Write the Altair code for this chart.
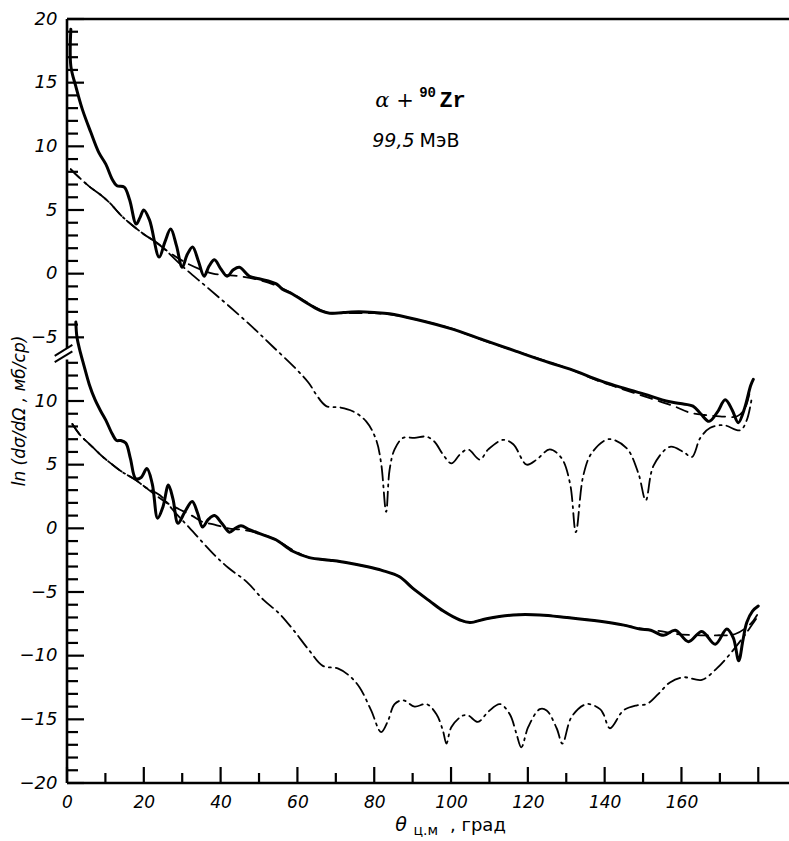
import altair as alt
import pandas as pd

# ---------------- data ----------------
# Upper set (alpha + 90Zr, 99.5 MeV) -- values in the upper axis units
up_solid_x = [1.0, 1.0, 2.3, 4.0, 6.2, 8.3, 10.1, 11.8, 13.0, 14.9, 16.3, 18.0, 19.0, 20.0, 21.5, 24.0,
              25.5, 27.0, 28.5, 30.0, 31.3, 32.7, 34.2, 35.7, 37.0, 38.4, 40.0, 41.7, 43.3, 44.9, 47.5,
              50.0, 54.5, 56.0, 58.7, 63.0, 66.0, 68.4, 72.0, 76.0, 80.0, 84.0, 91.0, 99.7, 108.4,
              117.0, 125.7, 131.0, 138.8, 145.0, 151.8, 156.0, 159.7, 163.0, 165.0, 167.2, 169.3,
              171.4, 173.2, 174.8, 176.5, 178.0, 178.7]
up_solid_y = [19.2, 16.3, 14.7, 12.9, 11.1, 9.5, 8.6, 7.4, 6.9, 6.8, 5.8, 3.9, 4.4, 5.0, 4.2, 1.3,
              2.5, 3.5, 2.2, 0.5, 1.5, 2.1, 1.0, -0.2, 0.6, 1.1, 0.4, -0.2, 0.3, 0.5, -0.2,
              -0.4, -0.8, -1.2, -1.6, -2.4, -2.9, -3.1, -3.05, -3.0, -3.05, -3.15, -3.6, -4.3, -5.2,
              -6.1, -7.0, -7.5, -8.4, -9.0, -9.6, -10.0, -10.2, -10.4, -11.0, -11.6, -10.9,
              -9.9, -10.7, -11.7, -10.5, -8.8, -8.3]

up_dash_x = [1.0, 3.0, 6.0, 8.3, 11.0, 14.0, 17.0, 20.0, 23.0, 26.0, 29.0, 32.0, 35.0, 38.0, 41.0,
             45.0, 50.0, 55.0, 60.0, 65.0, 68.4, 72.0, 80.0, 84.0, 91.0, 100.0, 108.0, 117.0, 126.0,
             131.0, 139.0, 145.0, 152.0, 158.0, 162.0, 166.0, 170.0, 174.5, 176.5, 178.0]
up_dash_y = [8.2, 7.6, 6.8, 6.3, 5.6, 4.6, 3.8, 3.1, 2.5, 1.8, 1.2, 0.7, 0.3, 0.0, -0.1,
             -0.2, -0.5, -1.0, -1.8, -2.7, -3.1, -3.1, -3.1, -3.2, -3.6, -4.3, -5.2, -6.1, -7.0,
             -7.5, -8.5, -9.1, -9.8, -10.4, -10.9, -11.1, -11.2, -11.2, -10.6, -9.0]

up_dd_x = [1.0, 3.0, 6.0, 8.3, 11.0, 14.0, 17.0, 20.0, 24.0, 30.0, 36.2, 42.0, 48.3, 53.5, 59.7,
           63.0, 64.9, 67.5, 71.0, 74.4, 77.9, 80.5, 81.8, 83.1, 84.0, 85.3, 87.5, 90.5, 93.6,
           95.7, 97.9, 100.1, 102.3, 104.4, 107.5, 109.7, 113.6, 116.2, 119.7, 122.3, 125.7,
           128.8, 131.0, 132.5, 134.4, 136.6, 141.0, 145.7, 148.8, 150.7, 152.7, 157.0, 160.5,
           162.7, 164.9, 167.5, 171.0, 175.3, 177.0, 178.4]
up_dd_y = [8.2, 7.6, 6.8, 6.3, 5.6, 4.6, 3.8, 3.1, 2.3, 0.6, -1.0, -2.5, -4.2, -5.7, -7.5,
           -8.6, -9.5, -10.4, -10.5, -10.8, -11.6, -13.05, -14.9, -18.7, -15.4, -13.8, -12.9, -12.9, -12.8,
           -13.2, -14.2, -14.9, -14.2, -13.8, -14.6, -13.8, -13.05, -13.4, -15.0, -14.6, -13.8,
           -14.5, -16.5, -20.3, -15.9, -14.1, -13.0, -13.7, -15.7, -17.8, -15.1, -13.6, -14.0,
           -14.4, -12.9, -12.1, -11.9, -12.3, -11.5, -9.6]

# Lower set -- values in the lower axis units (its labels)
lo_solid_x = [2.3, 2.6, 3.5, 4.4, 5.8, 7.3, 8.8, 10.1, 11.8, 12.9, 14.0, 15.3, 16.5, 17.9, 19.3, 20.8,
              22.2, 23.6, 25.0, 26.4, 27.6, 28.9, 30.7, 32.6, 34.0, 35.3, 36.8, 38.4, 40.3, 42.3,
              43.8, 45.3, 47.5, 50.0, 54.4, 58.8, 63.1, 68.4, 73.0, 78.0, 82.0, 86.6, 90.0, 94.4,
              98.0, 102.3, 104.9, 109.2, 116.2, 123.1, 130.1, 138.8, 145.0, 149.2, 152.0, 155.3,
              158.4, 161.8, 165.3, 168.8, 171.8, 173.5, 174.9, 176.0, 177.0, 178.5, 180.0]
lo_solid_y = [16.2, 15.0, 13.8, 12.8, 11.3, 10.1, 9.2, 8.5, 7.4, 6.9, 6.9, 6.7, 5.5, 3.9, 4.0, 4.7,
              3.5, 0.8, 1.7, 3.4, 2.3, 0.4, 1.3, 2.1, 1.2, 0.1, 0.7, 1.0, 0.4, -0.3,
              0.0, 0.2, -0.1, -0.4, -0.9, -1.8, -2.3, -2.5, -2.7, -3.0, -3.3, -3.8, -4.7, -5.7,
              -6.5, -7.2, -7.4, -7.1, -6.8, -6.8, -7.0, -7.3, -7.6, -7.9, -8.0, -8.4,
              -8.0, -8.9, -8.1, -9.1, -7.9, -8.6, -10.4, -8.8, -7.4, -6.5, -6.1]

lo_dash_x = [1.4, 3.5, 6.6, 9.0, 11.0, 14.0, 17.9, 20.5, 23.1, 26.0, 29.2, 32.5, 35.3, 38.4, 42.0,
             45.3, 50.0, 54.4, 58.8, 63.1, 68.4, 73.0, 78.0, 82.0, 86.6, 90.0, 94.4, 98.0, 102.3,
             104.9, 109.2, 116.2, 123.1, 130.1, 138.8, 145.0, 150.0, 155.0, 158.8, 165.0, 169.2,
             174.0, 178.0, 179.7]
lo_dash_y = [8.2, 7.3, 6.4, 5.7, 5.2, 4.5, 3.8, 3.2, 2.6, 2.0, 1.5, 1.0, 0.5, 0.3, 0.0,
             -0.1, -0.4, -0.9, -1.7, -2.3, -2.5, -2.7, -3.0, -3.3, -3.8, -4.7, -5.7, -6.5, -7.2,
             -7.4, -7.1, -6.8, -6.8, -7.0, -7.3, -7.6, -7.9, -8.1, -8.3, -8.4, -8.4,
             -8.3, -7.5, -6.8]

lo_dd_x = [1.4, 3.5, 6.6, 9.0, 11.0, 14.0, 17.9, 20.5, 24.2, 28.0, 32.0, 38.1, 42.0, 46.8, 51.1,
           55.3, 59.0, 63.1, 66.6, 70.5, 73.6, 76.2, 79.2, 81.8, 83.6, 85.3, 87.5, 90.5, 93.6,
           96.2, 97.9, 98.8, 100.1, 103.1, 104.5, 107.0, 109.7, 112.7, 115.3, 117.0, 118.3,
           120.1, 123.1, 124.9, 127.5, 129.0, 131.4, 135.3, 138.8, 139.7, 141.4, 144.9, 148.4,
           151.0, 154.0, 157.0, 160.5, 165.3, 169.2, 172.7, 176.2, 179.7]
lo_dd_y = [8.2, 7.3, 6.4, 5.7, 5.2, 4.5, 3.8, 3.2, 2.6, 1.3, 0.0, -2.0, -3.1, -4.2, -5.6,
           -6.7, -8.0, -9.6, -10.8, -11.0, -11.6, -12.5, -14.3, -16.0, -15.1, -13.8, -13.5, -14.0, -13.8,
           -14.6, -15.9, -16.9, -15.6, -14.7, -14.7, -15.2, -14.4, -13.8, -14.6, -16.1, -17.2,
           -15.6, -14.2, -14.3, -15.7, -16.9, -14.8, -13.8, -14.2, -14.6, -15.7, -14.3, -13.9,
           -13.8, -13.0, -12.1, -11.7, -11.9, -11.0, -9.85, -8.5, -7.0]

# axis tick labels
x_label_values = [0, 20, 40, 60, 80, 100, 120, 140, 160]
upper_labels = [20, 15, 10, 5, 0, -5]
lower_labels = [10, 5, 0, -5, -10, -15, -20]
LOWER_SHIFT = -20  # broken axis: the lower set sits 20 units below the upper one

# ---------------- build tables ----------------
def frame(xs, ys, series, shift):
    return pd.DataFrame({"x": xs, "y": [v + shift for v in ys], "series": series})

df = pd.concat([
    frame(up_solid_x, up_solid_y, "up_solid", 0),
    frame(up_dash_x, up_dash_y, "up_dash", 0),
    frame(up_dd_x, up_dd_y, "up_dd", 0),
    frame(lo_solid_x, lo_solid_y, "lo_solid", LOWER_SHIFT),
    frame(lo_dash_x, lo_dash_y, "lo_dash", LOWER_SHIFT),
    frame(lo_dd_x, lo_dd_y, "lo_dd", LOWER_SHIFT),
], ignore_index=True)
df["order"] = range(len(df))

y_label_values = upper_labels + [v + LOWER_SHIFT for v in lower_labels]

FONT = "DejaVu Sans"
label_expr = ("datum.value >= -5 ? (datum.value < 0 ? '\u2212' + abs(datum.value) : '' + datum.value)"
              " : (datum.value + 20 < 0 ? '\u2212' + abs(datum.value + 20) : '' + (datum.value + 20))")

X = alt.X("x:Q", scale=alt.Scale(domain=[0, 188], nice=False, zero=False),
          axis=alt.Axis(values=x_label_values, ticks=False, domain=False, grid=False, title=None,
                        labelFont=FONT, labelFontSize=17, labelFontStyle="italic", labelColor="black",
                        labelPadding=11, labelFlush=False, format="d"))
Y = alt.Y("y:Q", scale=alt.Scale(domain=[-40, 20], nice=False, zero=False),
          axis=alt.Axis(values=y_label_values, labelExpr=label_expr, ticks=False, domain=False,
                        grid=False, title=None, labelFont=FONT, labelFontSize=18,
                        labelFontStyle="italic", labelColor="black", labelPadding=10,
                        labelFlush=False))

base = alt.Chart(df)

def curve(series, **kw):
    return base.transform_filter(alt.datum.series == series).mark_line(
        color="black", interpolate="catmull-rom", strokeCap="round", strokeJoin="round", **kw
    ).encode(x=X, y=Y, order="order:Q")

DASH = [12, 7]
DASHDOT = [14, 5, 2, 5]
layers = [
    curve("up_dd", strokeWidth=1.8, strokeDash=DASHDOT),
    curve("lo_dd", strokeWidth=1.8, strokeDash=DASHDOT),
    curve("up_dash", strokeWidth=1.8, strokeDash=DASH),
    curve("lo_dash", strokeWidth=1.8, strokeDash=DASH),
    curve("up_solid", strokeWidth=3.0),
    curve("lo_solid", strokeWidth=3.0),
]

# ---------------- axes drawn by hand (inward ticks, broken axis) ----------------
y_ticks = [v for v in range(20, -6, -1)] + [v for v in range(-7, -41, -1)]
yt = pd.DataFrame({"y": y_ticks, "major": [v % 5 == 0 for v in y_ticks]})
x_ticks = list(range(0, 181, 10))
xt = pd.DataFrame({"x": x_ticks, "major": [v % 20 == 0 for v in x_ticks]})

H = 764
layers += [
    alt.Chart(yt).transform_filter("datum.major").mark_rule(color="black", strokeWidth=2.2)
      .encode(y=Y, x=alt.value(0), x2=alt.value(17)),
    alt.Chart(yt).transform_filter("!datum.major").mark_rule(color="black", strokeWidth=2.2)
      .encode(y=Y, x=alt.value(0), x2=alt.value(11)),
    alt.Chart(xt).transform_filter("datum.major").mark_rule(color="black", strokeWidth=2.2)
      .encode(x=X, y=alt.value(H), y2=alt.value(H - 16)),
    alt.Chart(xt).transform_filter("!datum.major").mark_rule(color="black", strokeWidth=2.2)
      .encode(x=X, y=alt.value(H), y2=alt.value(H - 10)),
]

frame_lines = pd.DataFrame({
    "x":  [0, 0, 0, 0],
    "x2": [0, 0, 188, 188],
    "y":  [20, -6.75, -40, 20],
    "y2": [-5.85, -40, -40, 20],
})
layers.append(alt.Chart(frame_lines).mark_rule(color="black", strokeWidth=2.6)
              .encode(x=X, x2="x2:Q", y=Y, y2="y2:Q"))

slashes = pd.DataFrame({"x": [-3.2, -3.2], "x2": [1.4, 1.4], "y": [-6.45, -6.95], "y2": [-5.6, -6.1]})
layers.append(alt.Chart(slashes).mark_rule(color="black", strokeWidth=2)
              .encode(x=X, x2="x2:Q", y=Y, y2="y2:Q"))

# ---------------- annotations ----------------
def txt(t, x, y, size, style="normal", font=FONT, weight="normal", align="center"):
    d = pd.DataFrame({"t": [t], "x": [x], "y": [y]})
    return alt.Chart(d).mark_text(fontSize=size, font=font, fontStyle=style, fontWeight=weight,
                                  align=align, baseline="alphabetic", color="black").encode(
        x=X, y=Y, text="t:N")

layers += [
    txt("\u03b1 +", 85.3, 13.1, 21, style="italic", font="DejaVu Serif"),
    txt("90", 93.9, 13.9, 14, font="Liberation Mono", weight="bold"),
    txt("Zr", 100.4, 13.1, 22, font="Liberation Mono", weight="bold"),
    txt("99,5", 85.0, 9.95, 19, style="italic"),
    txt("\u041c\u044d\u0412", 97.0, 9.95, 19),
]

# axis titles
ytitle = pd.DataFrame({"t": ["ln (d\u03c3/d\u03a9 , \u043c\u0431/\u0441\u0440)"]})
layers.append(alt.Chart(ytitle).mark_text(angle=270, fontSize=17, font=FONT, fontStyle="italic",
                                          align="center", baseline="middle", color="black")
              .encode(text="t:N", x=alt.value(-47), y=alt.value(392)))

xt_parts = pd.DataFrame({
    "t": ["\u03b8", "\u0446.\u043c", ", \u0433\u0440\u0430\u0434"],
    "x": [87.0, 93.4, 107.0],
})
layers.append(alt.Chart(xt_parts.iloc[[0]]).mark_text(fontSize=19, font=FONT, fontStyle="italic",
                                                     baseline="alphabetic", color="black")
              .encode(x=X, text="t:N", y=alt.value(H + 48)))
layers.append(alt.Chart(xt_parts.iloc[[1]]).mark_text(fontSize=14, font=FONT,
                                                     baseline="alphabetic", color="black")
              .encode(x=X, text="t:N", y=alt.value(H + 52)))
layers.append(alt.Chart(xt_parts.iloc[[2]]).mark_text(fontSize=18, font=FONT,
                                                     baseline="alphabetic", color="black")
              .encode(x=X, text="t:N", y=alt.value(H + 48)))

chart = alt.layer(*layers).properties(
    width=722, height=H,
    padding={"left": 67, "top": 19, "right": 0, "bottom": 58},
    autosize=alt.AutoSizeParams(type="none"),
    background="white",
).configure_view(stroke=None)

chart.save("out.html", embed_options={"renderer": "svg", "actions": False})
